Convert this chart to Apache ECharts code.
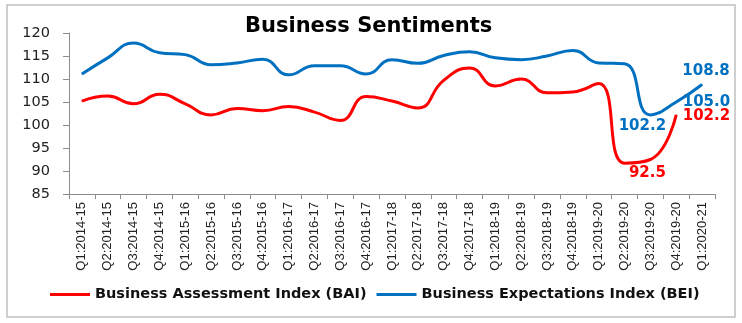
<!DOCTYPE html>
<html>
<head>
<meta charset="utf-8">
<title>Business Sentiments</title>
<script src="https://cdn.jsdelivr.net/npm/echarts@6/dist/echarts.min.js"></script>
<style>
  html, body { margin: 0; padding: 0; background: #fff; }
  #chart { width: 742px; height: 323px; }
</style>
</head>
<body>
<div id="chart"></div>
<script>
// Quarterly survey periods
const quarters = [
  'Q1:2014-15', 'Q2:2014-15', 'Q3:2014-15', 'Q4:2014-15',
  'Q1:2015-16', 'Q2:2015-16', 'Q3:2015-16', 'Q4:2015-16',
  'Q1:2016-17', 'Q2:2016-17', 'Q3:2016-17', 'Q4:2016-17',
  'Q1:2017-18', 'Q2:2017-18', 'Q3:2017-18', 'Q4:2017-18',
  'Q1:2018-19', 'Q2:2018-19', 'Q3:2018-19', 'Q4:2018-19',
  'Q1:2019-20', 'Q2:2019-20', 'Q3:2019-20', 'Q4:2019-20',
  'Q1:2020-21'
];

// Business Assessment Index (no reading for the last quarter)
const bai = [
  105.2, 106.3, 104.6, 106.7, 104.6, 102.2, 103.6, 103.1,
  104.0, 102.8, 101.0, 106.2, 105.2, 103.7, 109.7, 112.4,
  108.5, 110.0, 107.0, 107.2, 109.0, 91.7, 92.5, 102.2,
  null
];

// Business Expectations Index
const bei = [
  111.1, 114.6, 117.8, 115.7, 115.3, 113.1, 113.5, 114.3,
  110.9, 112.9, 112.9, 111.1, 114.2, 113.4, 115.1, 115.9,
  114.6, 114.2, 115.0, 116.2, 113.5, 113.3, 102.2, 105.0,
  108.8
];

// Y axis range
const yMin = 85, yMax = 120, yStep = 5;

const RED = '#ff0000';
const BLUE = '#0070c0';
const labelFont = { fontFamily: 'DejaVu Sans', fontWeight: 'bold', fontSize: 15 };

// Point labels for the latest readings
function labelled(values, color, specs) {
  return values.map((v, i) => {
    const s = specs[i];
    if (!s) return v;
    return {
      value: v,
      label: Object.assign({ show: true, color: color, formatter: (p) => p.value.toFixed(1) }, labelFont, s)
    };
  });
}

const baiData = labelled(bai, RED, {
  22: { position: 'bottom', distance: 5, offset: [-3, 1] },
  23: { position: 'right', distance: 6, offset: [0, 1] }
});
const beiData = labelled(bei, BLUE, {
  22: { position: 'bottom', distance: 5, offset: [-8, -2] },
  23: { position: 'right', distance: 6, offset: [0, 0] },
  24: { position: 'top', distance: 5, offset: [4, 0] }
});

const chart = echarts.init(document.getElementById('chart'), null, { renderer: 'canvas' });

chart.setOption({
  backgroundColor: '#ffffff',
  animation: false,
  title: {
    text: 'Business Sentiments',
    left: 245,
    top: 16,
    padding: 0,
    textStyle: { fontFamily: 'DejaVu Sans', fontWeight: 'bold', fontSize: 21, color: '#000' }
  },
  graphic: [{
    type: 'rect',
    shape: { x: 7, y: 5, width: 728, height: 312 },
    style: { fill: 'none', stroke: '#c0c0c0', lineWidth: 1.5 },
    silent: true
  }],
  legend: {
    left: 50,
    top: 287,
    itemWidth: 40,
    itemHeight: 3,
    itemGap: 10,
    padding: 0,
    icon: 'rect',
    textStyle: { fontFamily: 'DejaVu Sans', fontWeight: 'bold', fontSize: 14.5, color: '#111' },
    data: ['Business Assessment Index (BAI)', 'Business Expectations Index (BEI)']
  },
  grid: { left: 69, right: 27, top: 33, bottom: 129 },
  xAxis: {
    type: 'category',
    data: quarters,
    boundaryGap: true,
    axisLine: { lineStyle: { color: '#8c8c8c', width: 1 } },
    axisTick: { show: true, interval: 0, length: 5, lineStyle: { color: '#8c8c8c' } },
    axisLabel: {
      interval: 0,
      rotate: 90,
      margin: 8,
      fontFamily: 'Liberation Sans',
      fontSize: 13,
      color: '#222'
    },
    splitLine: { show: false }
  },
  yAxis: {
    type: 'value',
    min: yMin,
    max: yMax,
    interval: yStep,
    axisLine: { show: true, lineStyle: { color: '#8c8c8c', width: 1 } },
    axisTick: { show: true, length: 6, lineStyle: { color: '#8c8c8c' } },
    axisLabel: { margin: 19, fontFamily: 'DejaVu Sans', fontSize: 14.5, color: '#222' },
    splitLine: { show: false }
  },
  series: [
    {
      name: 'Business Assessment Index (BAI)',
      type: 'line',
      data: baiData,
      smooth: 0.5,
      showSymbol: true,
      symbol: 'circle',
      symbolSize: 1,
      lineStyle: { color: RED, width: 3 },
      itemStyle: { color: RED },
      z: 3
    },
    {
      name: 'Business Expectations Index (BEI)',
      type: 'line',
      data: beiData,
      smooth: 0.5,
      showSymbol: true,
      symbol: 'circle',
      symbolSize: 1,
      lineStyle: { color: BLUE, width: 3 },
      itemStyle: { color: BLUE },
      z: 2
    }
  ]
});
</script>
</body>
</html>
